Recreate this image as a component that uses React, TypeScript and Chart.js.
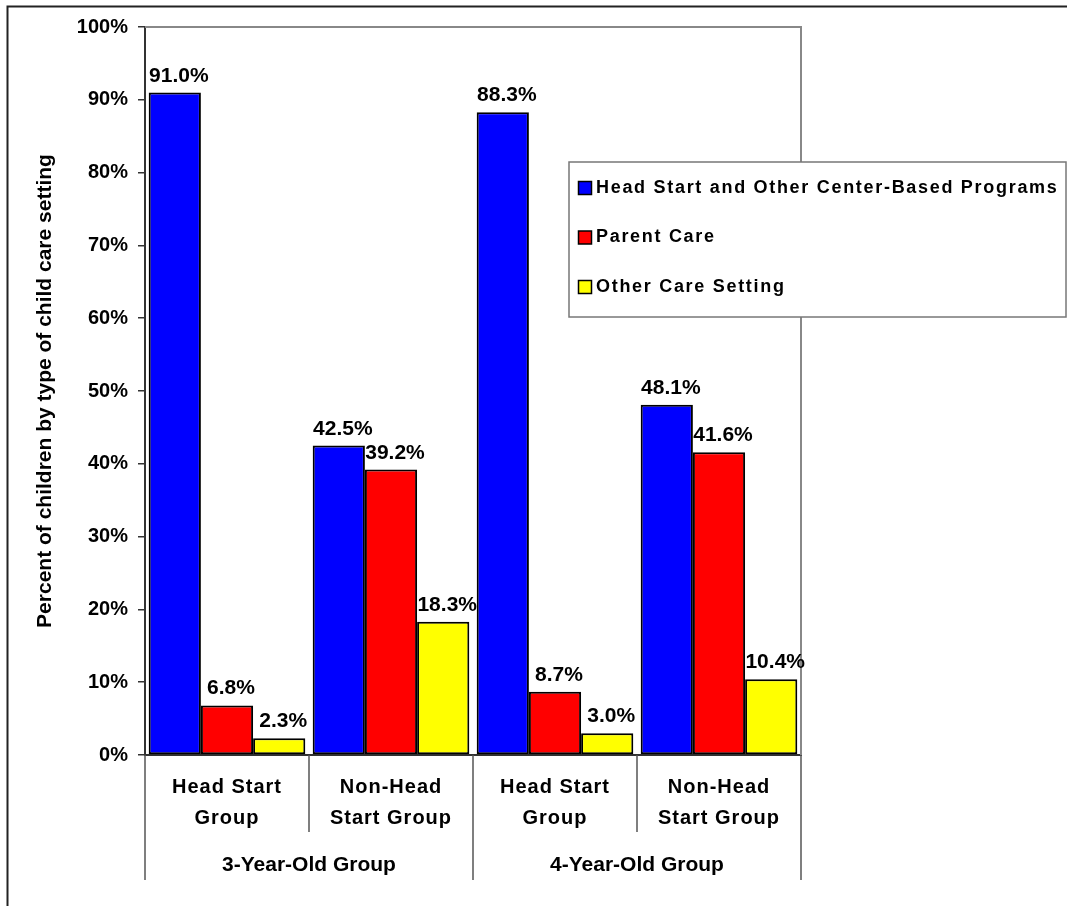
import React, { useEffect, useRef } from "react";
import { Chart, registerables } from "chart.js";

Chart.register(...registerables);

const categoryLines: string[][] = [
  ["Head Start", "Group"],
  ["Non-Head", "Start Group"],
  ["Head Start", "Group"],
  ["Non-Head", "Start Group"],
];
const ageGroups = ["3-Year-Old Group", "4-Year-Old Group"];
const seriesNames = [
  "Head Start and Other Center-Based Programs",
  "Parent Care",
  "Other Care Setting",
];
const centerBased = [91.0, 42.5, 88.3, 48.1];
const parentCare = [6.8, 39.2, 8.7, 41.6];
const otherCare = [2.3, 18.3, 3.0, 10.4];
const seriesColors = ["#0000FF", "#FF0000", "#FFFF00"];
const yMin = 0;
const yMax = 100;
const yStep = 10;
const yTitle = "Percent of children by type of child care setting";

const FONT = "'Liberation Sans', Arial, sans-serif";

const decorPlugin = {
  id: "decor",
  afterDraw(chart: any) {
    const ctx = chart.ctx as CanvasRenderingContext2D;
    const area = chart.chartArea;
    const xs = chart.scales.x;
    const n = categoryLines.length;
    const catW = (xs.right - xs.left) / n;

    ctx.save();
    // outer frame
    ctx.strokeStyle = "#222";
    ctx.lineWidth = 2;
    ctx.strokeRect(7.5, 6.5, 3000, 3000);

    // plot top/right border
    ctx.strokeStyle = "#888";
    ctx.lineWidth = 2;
    ctx.beginPath();
    ctx.moveTo(area.left, area.top);
    ctx.lineTo(area.right, area.top);
    ctx.lineTo(area.right, area.bottom);
    ctx.stroke();

    // value labels
    ctx.fillStyle = "#000";
    ctx.font = `bold 21px ${FONT}`;
    ctx.textAlign = "center";
    ctx.textBaseline = "alphabetic";
    chart.data.datasets.forEach((ds: any, di: number) => {
      const meta = chart.getDatasetMeta(di);
      meta.data.forEach((bar: any, i: number) => {
        const v = ds.data[i];
        ctx.fillText(v.toFixed(1) + "%", bar.x + 4, bar.y - 11);
      });
    });

    // category dividers
    ctx.strokeStyle = "#555";
    ctx.lineWidth = 1.5;
    for (let b = 0; b <= n; b++) {
      const x = xs.left + b * catW;
      const outer = b % 2 === 0;
      ctx.beginPath();
      ctx.moveTo(x, area.bottom);
      ctx.lineTo(x, outer ? area.bottom + 125 : area.bottom + 77);
      ctx.stroke();
    }

    // category labels
    ctx.fillStyle = "#000";
    ctx.font = `bold 20px ${FONT}`;
    ctx.textBaseline = "middle";
    (ctx as any).letterSpacing = "1px";
    categoryLines.forEach((lines, i) => {
      const cx = xs.getPixelForValue(i);
      lines.forEach((ln, li) => {
        ctx.fillText(ln, cx, area.bottom + 32 + li * 31);
      });
    });
    (ctx as any).letterSpacing = "0px";

    // age group labels
    ctx.font = `bold 21px ${FONT}`;
    ageGroups.forEach((g, gi) => {
      const cx = (xs.getPixelForValue(gi * 2) + xs.getPixelForValue(gi * 2 + 1)) / 2;
      ctx.fillText(g, cx, area.bottom + 110);
    });

    // legend
    const lx = 569, ly = 162, lw = 497, lh = 155;
    ctx.fillStyle = "#fff";
    ctx.fillRect(lx, ly, lw, lh);
    ctx.strokeStyle = "#777";
    ctx.lineWidth = 1.5;
    ctx.strokeRect(lx, ly, lw, lh);
    ctx.font = `bold 18px ${FONT}`;
    ctx.textAlign = "left";
    ctx.textBaseline = "middle";
    (ctx as any).letterSpacing = "1.7px";
    seriesNames.forEach((name, i) => {
      const cy = ly + 26 + i * 49.5;
      ctx.fillStyle = seriesColors[i];
      ctx.fillRect(578.5, cy - 6.5, 13, 13);
      ctx.strokeStyle = "#000";
      ctx.lineWidth = 1.5;
      ctx.strokeRect(578.5, cy - 6.5, 13, 13);
      ctx.fillStyle = "#000";
      ctx.fillText(name, 596, cy);
    });
    (ctx as any).letterSpacing = "0px";
    ctx.restore();
  },
};

export default function App() {
  const ref = useRef<HTMLCanvasElement | null>(null);
  useEffect(() => {
    if (!ref.current) return;
    const chart = new Chart(ref.current, {
      type: "bar",
      data: {
        labels: categoryLines.map((l) => l.join(" ")),
        datasets: [centerBased, parentCare, otherCare].map((d, i) => ({
          label: seriesNames[i],
          data: d,
          backgroundColor: seriesColors[i],
          borderColor: "#000",
          borderWidth: 2,
          borderSkipped: false,
          barPercentage: 1.0,
          categoryPercentage: 0.955,
        })),
      },
      options: {
        animation: false,
        responsive: false,
        maintainAspectRatio: false,
        layout: { padding: { top: 27, right: 266, bottom: 0, left: 0 } },
        plugins: {
          legend: { display: false },
          tooltip: { enabled: false },
          title: { display: false },
        },
        scales: {
          x: {
            ticks: { display: false },
            grid: { display: false },
            border: { display: true, color: "#333", width: 2 },
            afterFit: (s: any) => {
              s.height = 151;
            },
          },
          y: {
            min: yMin,
            max: yMax,
            ticks: {
              stepSize: yStep,
              color: "#000",
              padding: 10,
              font: { family: FONT, size: 20, weight: "bold" },
              callback: (v: any) => v + "%",
            },
            grid: {
              drawOnChartArea: false,
              drawTicks: true,
              tickLength: 7,
              color: "#333",
              lineWidth: 1.5,
            },
            border: { display: true, color: "#333", width: 2 },
            title: {
              display: true,
              text: yTitle,
              color: "#000",
              font: { family: FONT, size: 21, weight: "bold" },
              padding: { top: 33, bottom: 0 },
            },
            afterFit: (s: any) => {
              s.width = 145;
            },
          },
        },
      },
      plugins: [decorPlugin],
    });
    return () => chart.destroy();
  }, []);
  return (
    <div
      style={{
        position: "fixed",
        left: 0,
        top: 0,
        width: 1067,
        height: 906,
        overflow: "hidden",
        background: "#fff",
      }}
    >
      <canvas ref={ref} width={1067} height={906} style={{ display: "block" }} />
    </div>
  );
}
